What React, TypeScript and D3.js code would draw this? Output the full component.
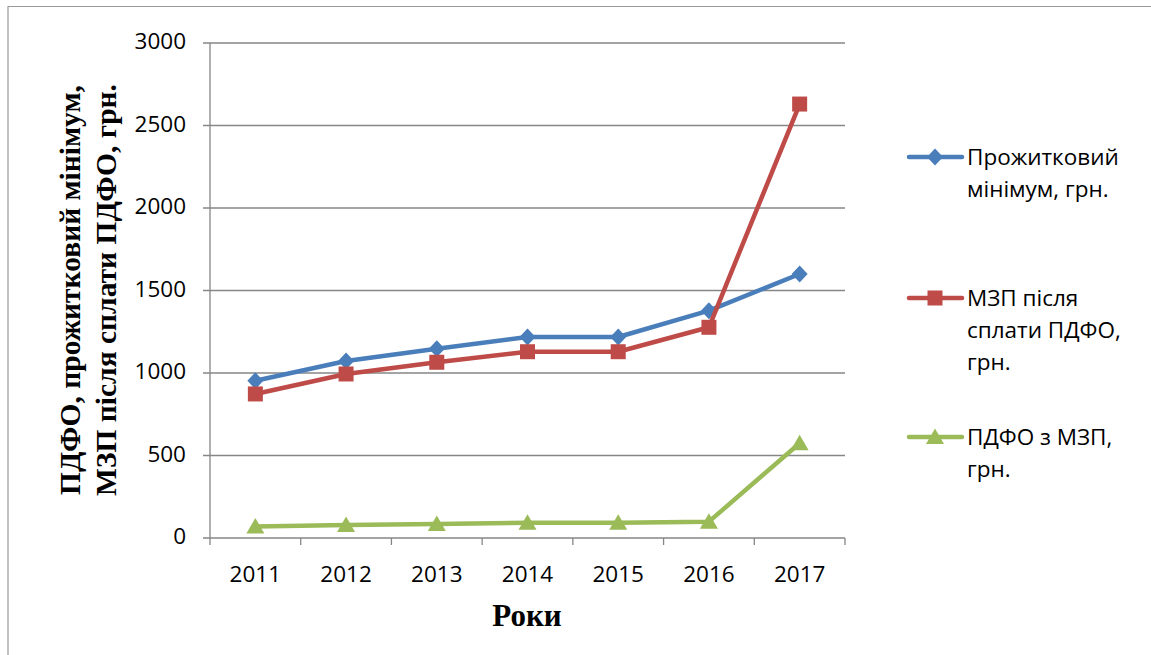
import * as d3 from 'd3';

const years = ['2011', '2012', '2013', '2014', '2015', '2016', '2017'];
const livingMinimum = [953, 1073, 1147, 1218, 1218, 1378, 1600];
const wageAfterTax = [873, 994, 1065, 1129, 1129, 1277, 2630];
const incomeTax = [69, 79, 85, 93, 93, 99, 574];
const yTicks = [0, 500, 1000, 1500, 2000, 2500, 3000];

const seriesNames = [
  ['Прожитковий', 'мінімум, грн.'],
  ['МЗП після', 'сплати ПДФО,', 'грн.'],
  ['ПДФО з МЗП,', 'грн.'],
];
const yTitle = ['ПДФО, прожитковий мінімум,', 'МЗП після сплати ПДФО, грн.'];
const xTitle = 'Роки';

const width = 1151;
const height = 655;
const margin = { top: 43, right: 306, bottom: 117, left: 210 };

const sans = '"Open Sans", "Noto Sans", sans-serif';
const serif = '"Liberation Serif", "DejaVu Serif", serif';
const grid = '#868686';

type Marker = 'diamond' | 'square' | 'triangle';

function markerPath(kind: Marker): string {
  if (kind === 'diamond') return 'M0,-8.5L8,0L0,8.5L-8,0Z';
  if (kind === 'square') return 'M-7.5,-7.5H7.5V7.5H-7.5Z';
  return 'M0,-8.5L9,7L-9,7Z';
}

export default function App() {
  const x = d3.scaleBand<string>()
    .domain(years)
    .range([margin.left, width - margin.right]);

  const y = d3.scaleLinear()
    .domain([0, 3000])
    .range([height - margin.bottom, margin.top]);

  const cx = (d: string) => (x(d) ?? 0) + x.bandwidth() / 2;

  const series = [
    { values: livingMinimum, color: '#4A7EBB', marker: 'diamond' as Marker, legendY: 157 },
    { values: wageAfterTax, color: '#BE4B48', marker: 'square' as Marker, legendY: 298 },
    { values: incomeTax, color: '#9BBB59', marker: 'triangle' as Marker, legendY: 437 },
  ];

  const line = d3.line<number>()
    .x((_, i) => cx(years[i]))
    .y(d => y(d));

  const x0 = margin.left;
  const x1 = width - margin.right;
  const yBase = height - margin.bottom;

  return (
    <svg
      width={width}
      height={height}
      style={{ position: 'absolute', left: 0, top: 0, background: 'white' }}
    >
      {/* frame */}
      <path d={`M8,${height}V6.5H${width}`} fill="none" stroke="#9a9a9a" strokeWidth={1.2} />

      {/* grid + y axis */}
      {yTicks.map(t => (
        <g key={t}>
          <line x1={x0 - 7} x2={x1} y1={y(t)} y2={y(t)} stroke={grid} strokeWidth={1.3} />
          <text
            x={186}
            y={y(t)}
            textAnchor="end"
            dominantBaseline="middle"
            fontFamily={sans}
            fontSize={22.5}
            fill="#000"
          >
            {t}
          </text>
        </g>
      ))}
      <line x1={x0} x2={x0} y1={margin.top} y2={yBase} stroke={grid} strokeWidth={1.3} />

      {/* x axis */}
      {years.concat(['']).map((d, i) => {
        const xp = i < years.length ? (x(d) ?? 0) : x1;
        return <line key={'t' + i} x1={xp} x2={xp} y1={yBase} y2={yBase + 7} stroke={grid} strokeWidth={1.3} />;
      })}
      {years.map(d => (
        <text key={d} x={cx(d)} y={582} textAnchor="middle" fontFamily={sans} fontSize={22.5}>
          {d}
        </text>
      ))}

      {/* series */}
      {series.map((s, si) => (
        <g key={si}>
          <path d={line(s.values) || ''} fill="none" stroke={s.color} strokeWidth={4.5} strokeLinejoin="round" strokeLinecap="round" />
          {s.values.map((v, i) => (
            <path key={i} d={markerPath(s.marker)} transform={`translate(${cx(years[i])},${y(v)})`} fill={s.color} />
          ))}
        </g>
      ))}

      {/* titles */}
      <text x={527} y={626} textAnchor="middle" fontFamily={serif} fontWeight="bold" fontSize={31}>
        {xTitle}
      </text>
      {yTitle.map((t, i) => (
        <text
          key={t}
          transform={`translate(${73 + i * 36},290) rotate(-90)`}
          textAnchor="middle"
          dominantBaseline="middle"
          fontFamily={serif}
          fontWeight="bold"
          fontSize={29.5}
        >
          {t}
        </text>
      ))}

      {/* legend */}
      {series.map((s, si) => (
        <g key={'l' + si}>
          <line x1={909} x2={962} y1={s.legendY} y2={s.legendY} stroke={s.color} strokeWidth={4.5} strokeLinecap="round" />
          <path d={markerPath(s.marker)} transform={`translate(935,${s.legendY})`} fill={s.color} />
          {seriesNames[si].map((ln, li) => (
            <text key={li} x={967} y={s.legendY + 8 + li * 31.8} fontFamily={sans} fontSize={22.5}>
              {ln}
            </text>
          ))}
        </g>
      ))}
    </svg>
  );
}
